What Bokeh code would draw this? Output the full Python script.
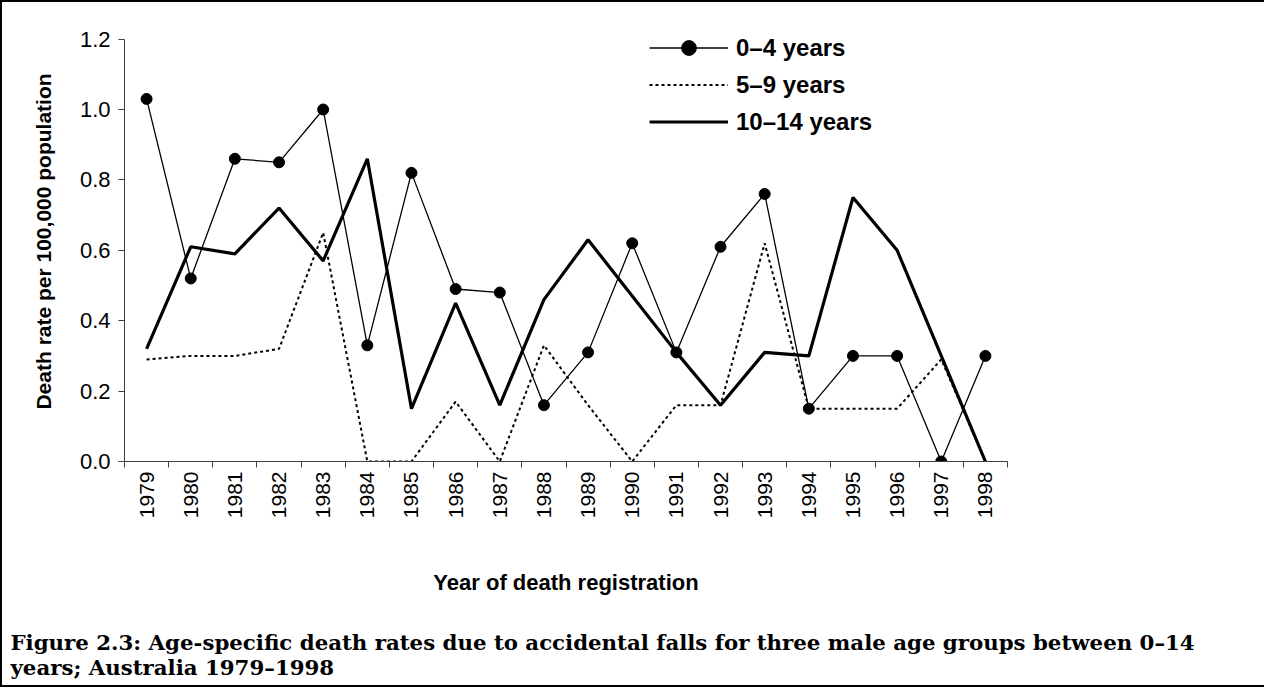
import math
from bokeh.plotting import figure
from bokeh.models import (FixedTicker, Legend, LegendItem, Title, NumeralTickFormatter, Range1d)
from bokeh.embed import file_html
from bokeh.resources import INLINE

# ---- data ----
years = list(range(1979, 1999))
rate_0_4 = [1.03, 0.52, 0.86, 0.85, 1.00, 0.33, 0.82, 0.49, 0.48, 0.16,
            0.31, 0.62, 0.31, 0.61, 0.76, 0.15, 0.30, 0.30, 0.00, 0.30]
rate_5_9 = [0.29, 0.30, 0.30, 0.32, 0.65, 0.00, 0.00, 0.17, 0.00, 0.33,
            0.16, 0.00, 0.16, 0.16, 0.62, 0.15, 0.15, 0.15, 0.29, 0.00]
rate_10_14 = [0.32, 0.61, 0.59, 0.72, 0.57, 0.86, 0.15, 0.45, 0.16, 0.46,
              0.63, 0.47, 0.31, 0.16, 0.31, 0.30, 0.75, 0.60, 0.30, 0.00]
y_ticks = [0.0, 0.2, 0.4, 0.6, 0.8, 1.0, 1.2]
series_labels = ["0–4 years", "5–9 years", "10–14 years"]
x_title = "Year of death registration"
y_title = "Death rate per 100,000 population"
caption_1 = "Figure 2.3: Age-specific death rates due to accidental falls for three male age groups between 0–14"
caption_2 = "years; Australia 1979–1998"

SANS = "Liberation Sans"
AXIS_COL = "#404040"

p = figure(width=1264, height=687, output_backend="svg", toolbar_location=None,
           x_range=Range1d(years[0] - 0.5, years[-1] + 0.5),
           y_range=Range1d(0, 1.25),
           min_border_left=122, min_border_right=259, min_border_top=19, min_border_bottom=228,
           styles={"border-left": "2px solid black", "border-top": "2px solid black",
                   "border-bottom": "2px solid black"})
p.outline_line_color = None
p.grid.visible = False
p.background_fill_color = "white"
p.border_fill_color = "white"

# x axis: labels at year centres, tick marks between years
p.xaxis.ticker = FixedTicker(ticks=years, minor_ticks=[y - 0.5 for y in years] + [years[-1] + 0.5])
p.xaxis.major_tick_line_color = None
p.xaxis.major_tick_out = 6
p.xaxis.major_tick_in = 0
p.xaxis.minor_tick_out = 6
p.xaxis.minor_tick_in = 0
p.xaxis.minor_tick_line_color = AXIS_COL
p.xaxis.axis_line_color = AXIS_COL
p.xaxis.major_label_orientation = math.pi / 2
p.xaxis.major_label_text_font = SANS
p.xaxis.major_label_text_font_size = "21px"
p.xaxis.major_label_text_color = "black"
p.xaxis.major_label_standoff = 4
p.xaxis.axis_label = x_title
p.xaxis.axis_label_text_font = SANS
p.xaxis.axis_label_text_font_style = "bold"
p.xaxis.axis_label_text_font_size = "22px"
p.xaxis.axis_label_text_color = "black"
p.xaxis.axis_label_standoff = 49

p.yaxis.ticker = FixedTicker(ticks=y_ticks, minor_ticks=[])
p.yaxis.bounds = (0, 1.2)
p.yaxis.formatter = NumeralTickFormatter(format="0.0")
p.yaxis.major_tick_out = 6
p.yaxis.major_tick_in = 0
p.yaxis.major_tick_line_color = AXIS_COL
p.yaxis.axis_line_color = AXIS_COL
p.yaxis.major_label_text_font = SANS
p.yaxis.major_label_text_font_size = "22px"
p.yaxis.major_label_text_color = "black"
p.yaxis.major_label_standoff = 8
p.yaxis.axis_label = y_title
p.yaxis.axis_label_text_font = SANS
p.yaxis.axis_label_text_font_style = "bold"
p.yaxis.axis_label_text_font_size = "21px"
p.yaxis.axis_label_text_color = "black"
p.yaxis.axis_label_standoff = 22

# series
r_5_9 = p.line(years, rate_5_9, line_color="black", line_width=2, line_dash="3 3")
r_10_14 = p.line(years, rate_10_14, line_color="black", line_width=3.2)
r_0_4 = p.line(years, rate_0_4, line_color="black", line_width=1.3)
s_0_4 = p.scatter(years, rate_0_4, marker="circle", size=11, fill_color="black", line_color="black")

legend = Legend(items=[
    LegendItem(label=series_labels[0], renderers=[r_0_4, s_0_4]),
    LegendItem(label=series_labels[1], renderers=[r_5_9]),
    LegendItem(label=series_labels[2], renderers=[r_10_14]),
], location=(525, 321), orientation="vertical")
legend.border_line_color = None
legend.background_fill_alpha = 0
legend.padding = 0
legend.spacing = 0
legend.margin = 0
legend.glyph_width = 79
legend.glyph_height = 37
legend.label_height = 37
legend.label_standoff = 8
legend.label_text_font = SANS
legend.label_text_font_style = "bold"
legend.label_text_font_size = "24px"
legend.label_text_color = "black"
p.add_layout(legend, "center")

p.add_layout(Title(text="\n" + caption_1 + "\n" + caption_2, align="left", offset=-114, standoff=8,
                   text_font="DejaVu Serif", text_font_style="bold", text_font_size="21.3px",
                   text_line_height=1.0, text_color="black"), "below")

open("out.html", "w").write(file_html(p, INLINE))
